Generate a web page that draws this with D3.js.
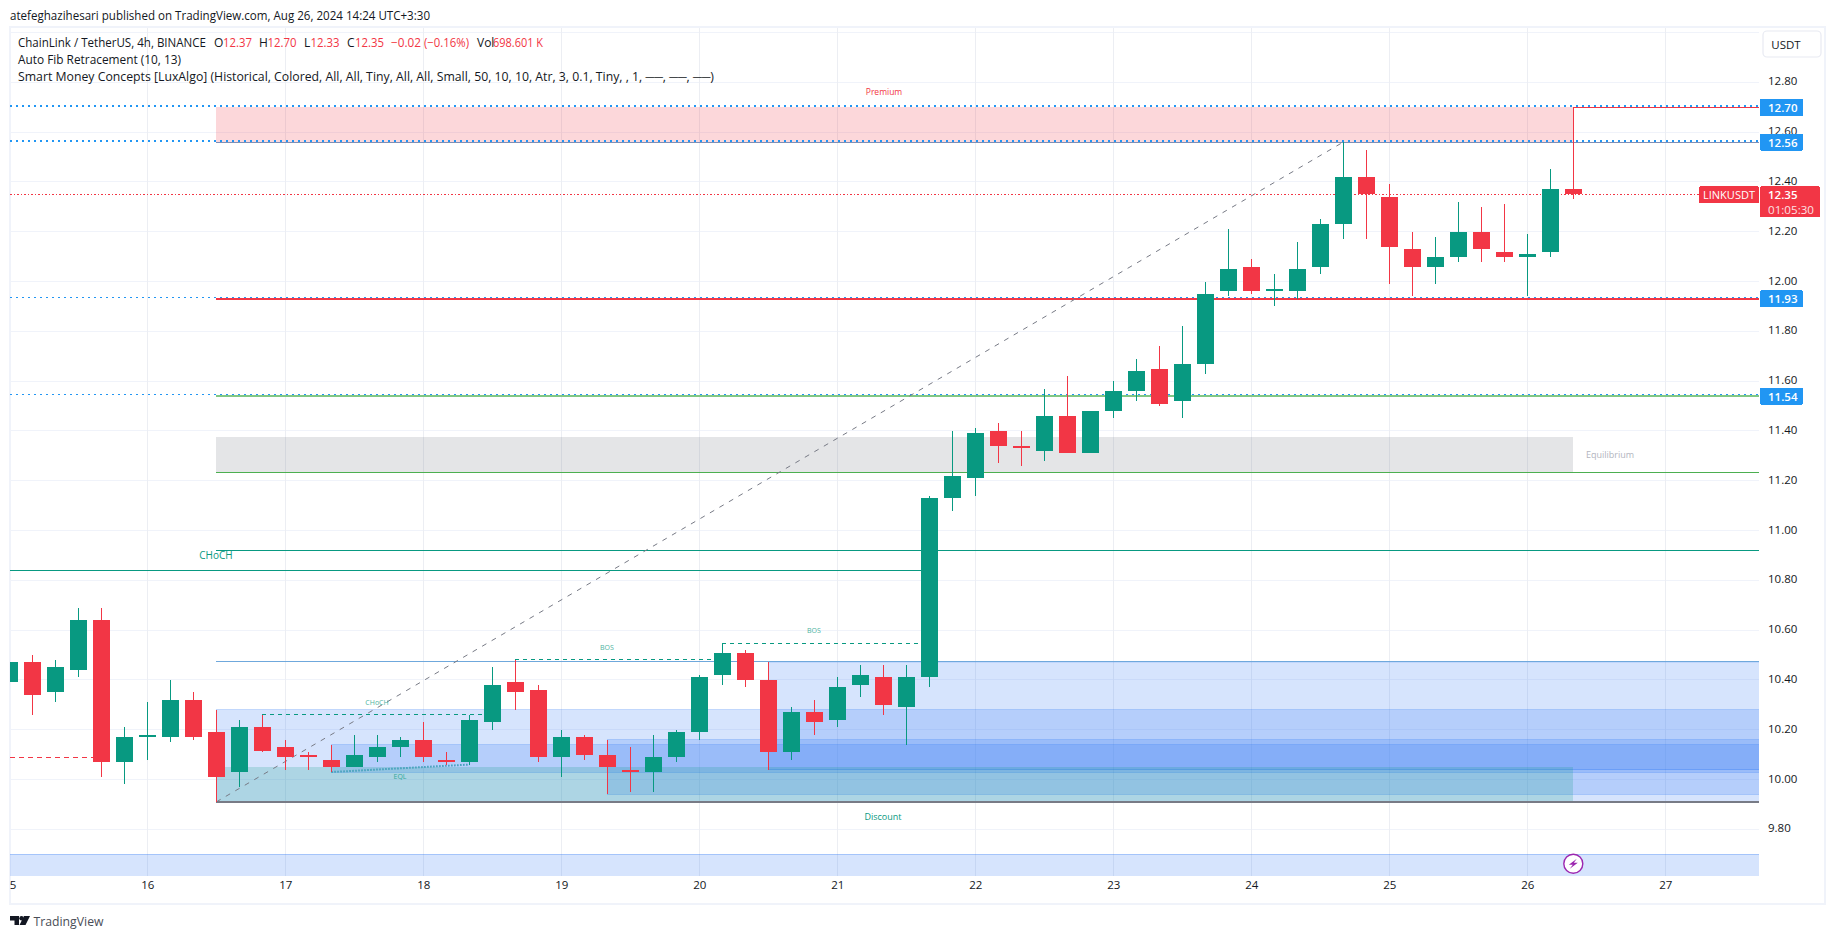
<!DOCTYPE html>
<html><head><meta charset="utf-8">
<style>
html,body{margin:0;padding:0;background:#fff;overflow:hidden}
svg{display:block}
text{font-family:"Open Sans","Noto Sans",sans-serif}
.domain,.tick line{display:none}
</style>
<script src="https://cdn.jsdelivr.net/npm/d3@7/dist/d3.min.js"></script>
</head><body><svg id="c" width="1835" height="939"></svg>
<script>
const opens =[10.39,10.47,10.35,10.44,10.64,10.07,10.17,10.17,10.32,10.19,10.03,10.21,10.13,10.10,10.08,10.05,10.09,10.13,10.16,10.08,10.07,10.23,10.39,10.36,10.09,10.17,10.10,10.04,10.03,10.09,10.19,10.42,10.51,10.40,10.11,10.27,10.24,10.38,10.41,10.29,10.41,11.13,11.21,11.40,11.34,11.32,11.46,11.31,11.48,11.56,11.65,11.52,11.67,11.96,12.06,11.965,11.96,12.06,12.23,12.42,12.34,12.13,12.06,12.10,12.20,12.12,12.10,12.12,12.37];
const closes=[10.47,10.34,10.45,10.64,10.07,10.17,10.18,10.32,10.17,10.01,10.21,10.115,10.09,10.09,10.05,10.10,10.13,10.16,10.09,10.07,10.24,10.38,10.35,10.09,10.17,10.10,10.05,10.03,10.09,10.19,10.41,10.51,10.40,10.11,10.27,10.23,10.37,10.42,10.30,10.41,11.13,11.22,11.39,11.34,11.33,11.46,11.31,11.48,11.56,11.64,11.51,11.67,11.95,12.05,11.96,11.97,12.05,12.23,12.42,12.35,12.14,12.06,12.10,12.20,12.13,12.10,12.11,12.37,12.35];
const highs =[10.47,10.50,10.48,10.69,10.69,10.21,10.31,10.40,10.35,10.28,10.24,10.26,10.16,10.11,10.14,10.18,10.18,10.17,10.23,10.11,10.26,10.45,10.48,10.38,10.20,10.18,10.16,10.13,10.18,10.20,10.42,10.55,10.52,10.47,10.29,10.32,10.41,10.46,10.46,10.46,11.14,11.40,11.41,11.43,11.40,11.57,11.62,11.48,11.60,11.69,11.74,11.82,12.00,12.21,12.09,12.03,12.16,12.25,12.56,12.53,12.39,12.20,12.18,12.32,12.30,12.31,12.19,12.45,12.70];
const lows  =[10.39,10.26,10.31,10.41,10.01,9.98,10.08,10.15,10.16,9.91,9.97,10.11,10.04,10.04,10.03,10.05,10.07,10.09,10.07,10.06,10.06,10.20,10.28,10.07,10.01,10.08,9.94,9.95,9.95,10.07,10.16,10.38,10.37,10.04,10.08,10.18,10.21,10.33,10.26,10.14,10.37,11.08,11.14,11.27,11.26,11.28,11.31,11.31,11.45,11.52,11.50,11.45,11.63,11.94,11.95,11.90,11.93,12.03,12.17,12.17,11.99,11.94,11.99,12.08,12.08,12.08,11.94,12.10,12.33];
const yTicks=[12.8,12.6,12.4,12.2,12.0,11.8,11.6,11.4,11.2,11.0,10.8,10.6,10.4,10.2,10.0,9.8];
const gridPrices=[13.0].concat(yTicks);
const dayNumbers=[15,16,17,18,19,20,21,22,23,24,25,26,27];
const fibLevels=[12.70,12.56,11.93,11.54];
const lastPrice=12.35;
const premiumZone=[12.70,12.56], equilibriumZone=[11.376,11.234], discountZone=[10.05,9.91];
const orderBlockTops=[10.468,10.28,10.139,10.16], orderBlockBottoms=[10.04,9.91,10.03,9.94];
const orderBlockStarts=[33,9,14,26];
const lowerBandTop=9.70, lowerBandBottom=9.55;

const W=1835,H=939,PL=10,PR=1759,PT=28,PB=876;
const t0=Date.UTC(2024,7,15);
const x=d3.scaleUtc().domain([new Date(t0),new Date(Date.UTC(2024,7,27))]).range([9.3,1665.3]);
const y=d3.scaleLinear().domain([12.8,9.8]).range([82.3,829.3]);
const tAt=i=>new Date(t0+i*4*3600e3);
const cx=i=>x(tAt(i));
const GREEN="#089981",RED="#f23645",BLUE="#2196f3",TEXT="#131722";
const svg=d3.select("#c");
svg.append("rect").attr("width",W).attr("height",H).attr("fill","#fff");

// frame
svg.append("rect").attr("x",10).attr("y",27).attr("width",1815).attr("height",877).attr("fill","none").attr("stroke","#f0f3fa").attr("stroke-width",2).attr("shape-rendering","crispEdges");

const defs=svg.append("defs");
defs.append("clipPath").attr("id","plot").append("rect").attr("x",PL).attr("y",PT).attr("width",PR-PL).attr("height",PB-PT);
defs.append("clipPath").attr("id","xa").append("rect").attr("x",PL).attr("y",PB).attr("width",PR-PL).attr("height",26);

const P=svg.append("g").attr("clip-path","url(#plot)");
const crisp=g=>g.attr("shape-rendering","crispEdges");

// grid
crisp(P.append("g").selectAll("line").data(gridPrices).join("line").attr("x1",PL).attr("x2",PR).attr("y1",d=>y(d)).attr("y2",d=>y(d)).attr("stroke","#f0f3fa"));
crisp(P.append("g").selectAll("line").data(dayNumbers).join("line").attr("x1",d=>x(new Date(Date.UTC(2024,7,d)))).attr("x2",d=>x(new Date(Date.UTC(2024,7,d)))).attr("y1",PT).attr("y2",PB).attr("stroke","#eceef3"));

// zones
function zone(x1,x2,top,bot,fill,stroke){
  const r=P.append("rect").attr("x",x1).attr("width",x2-x1).attr("y",y(top)).attr("height",y(bot)-y(top)).attr("fill",fill).attr("shape-rendering","crispEdges");
  if(stroke){hline(x1,x2,top,stroke,1);hline(x1,x2,bot,stroke,1);}
  return r;
}
function hline(x1,x2,p,color,w,dash,dy){
  const l=P.append("line").attr("x1",x1).attr("x2",x2).attr("y1",y(p)+(dy||0)).attr("y2",y(p)+(dy||0)).attr("stroke",color).attr("stroke-width",w).attr("shape-rendering","crispEdges");
  if(dash)l.attr("stroke-dasharray",dash);
  return l;
}
const OBF="rgba(49,121,245,0.2)",OBS="rgba(49,121,245,0.3)";
zone(PL,PR,lowerBandTop,lowerBandBottom,OBF);
hline(PL,PR,lowerBandTop,OBS,1);
orderBlockTops.forEach((t,i)=>{zone(cx(orderBlockStarts[i]),PR,t,orderBlockBottoms[i],OBF,OBS);});
const Z0=cx(9),Z1=cx(68);
zone(Z0,Z1,premiumZone[0],premiumZone[1],"rgba(242,54,69,0.2)");
zone(Z0,Z1,equilibriumZone[0],equilibriumZone[1],"rgba(120,123,134,0.2)");
zone(Z0,Z1,discountZone[0],discountZone[1],"rgba(8,153,129,0.2)");

// fib dotted + solid
fibLevels.forEach((p,i)=>hline(PL,PR,p,BLUE,i<2?2:1,"2 4",i<2?-1:-1.2));
hline(cx(68),PR,12.70,RED,1);
hline(Z0,PR,12.56,"#7f8fb5",1);
hline(Z0,PR,11.93,RED,1.6);
hline(Z0,PR,11.54,"#81c784",1.6);
hline(Z0,PR,11.234,"#4caf50",1);
hline(Z0,PR,9.91,"#787b86",1.4);
hline(Z0,PR,10.475,"#6fa8dc",1);
hline(PL,cx(4),10.089,RED,1,"5 4");
hline(Z0,PR,10.92,GREEN,1);
hline(PL,cx(40),10.84,GREEN,1);
hline(cx(11),cx(21),10.26,GREEN,1,"4 4");
hline(cx(22),cx(31),10.48,GREEN,1,"4 4");
hline(cx(31),cx(40),10.547,GREEN,1,"4 4");
P.append("line").attr("x1",cx(31)).attr("x2",cx(31)).attr("y1",y(10.547)).attr("y2",y(10.51)).attr("stroke",GREEN).attr("stroke-width",1).attr("shape-rendering","crispEdges");
P.append("line").attr("x1",cx(14)).attr("y1",y(10.03)).attr("x2",cx(20)).attr("y2",y(10.06)).attr("stroke","#3f9fb8").attr("stroke-width",2).attr("stroke-dasharray","1.5 1.5");
P.append("line").attr("x1",Z0).attr("y1",y(9.91)).attr("x2",cx(58)).attr("y2",y(12.56)).attr("stroke","#787b86").attr("stroke-width",1).attr("stroke-dasharray","5 6");
hline(PL,PR,lastPrice,RED,1,"1.5 2");

// candles
const idx=d3.range(opens.length);
const up=i=>closes[i]>=opens[i];
crisp(P.append("g").selectAll("line").data(idx).join("line")
  .attr("x1",cx).attr("x2",cx).attr("y1",i=>y(highs[i])).attr("y2",i=>y(lows[i]))
  .attr("stroke",i=>up(i)?GREEN:RED).attr("stroke-width",1));
crisp(P.append("g").selectAll("rect").data(idx).join("rect")
  .attr("x",i=>cx(i)-8.5).attr("width",17)
  .attr("y",i=>y(Math.max(opens[i],closes[i])))
  .attr("height",i=>Math.max(2,Math.abs(y(opens[i])-y(closes[i]))))
  .attr("fill",i=>up(i)?GREEN:RED));

// small labels
function lab(t,xp,yp,size,color,op,anchor,width){
  const e=svg.append("text").text(t).attr("x",xp).attr("y",yp).attr("font-size",size).attr("fill",color).attr("opacity",op||1)
   .attr("text-anchor",anchor||"middle").attr("dominant-baseline","central");
  if(width)e.attr("textLength",width).attr("lengthAdjust","spacingAndGlyphs");
  return e;
}
lab("Premium",884,91,8.5,RED);
lab("Equilibrium",1610,454,9,"#b2b5be");
lab("Discount",883,816.5,9,GREEN);
lab("CHoCH",216,554.5,10,GREEN);
lab("CHoCH",377,702,7,GREEN,.75);
lab("BOS",607,647,7,GREEN,.75);
lab("BOS",814,630,7,GREEN,.75);
lab("EQL",400,776,7,GREEN,.75);

// y axis
const ya=svg.append("g").attr("transform","translate(1768,-1)").call(d3.axisRight(y).tickValues(yTicks).tickFormat(d3.format(".2f")).tickSize(0).tickPadding(0));
ya.selectAll("text").attr("font-size",11.5).attr("fill",TEXT).attr("font-family",'"Open Sans"');
// x axis
const xa=svg.append("g").attr("clip-path","url(#xa)").append("g").attr("transform","translate(0,881)")
 .call(d3.axisBottom(x).tickValues(dayNumbers.map(d=>new Date(Date.UTC(2024,7,d)))).tickFormat(d3.utcFormat("%d")).tickSize(0).tickPadding(0));
xa.selectAll("text").attr("font-size",11.5).attr("fill",TEXT).attr("font-family",'"Open Sans"');

// price tags
function tag(x1,x2,y1,y2,fill){svg.append("rect").attr("x",x1).attr("y",y1).attr("width",x2-x1).attr("height",y2-y1).attr("fill",fill).attr("rx",1).attr("shape-rendering","crispEdges");}
fibLevels.forEach(p=>{
  const c=y(p);
  tag(1760,1803,c-8.5,c+8.5,BLUE);
  lab(d3.format(".2f")(p),1768,c,11.5,"#fff",1,"start").attr("font-weight",600);
});
const ly=y(lastPrice);
tag(1699,1759,ly-8,ly+9,RED);
lab("LINKUSDT",1729,ly+.5,11.5,"#fff",1,"middle",52);
tag(1760,1820,ly-8,ly+23,RED);
lab(d3.format(".2f")(lastPrice),1768,ly+.5,11.5,"#fff",1,"start").attr("font-weight",600);
lab("01:05:30",1768,ly+15.5,11.5,"#fff",.85,"start",46);

// USDT button
svg.append("rect").attr("x",1763).attr("y",31).attr("width",58).attr("height",26).attr("rx",4).attr("fill","#fff").attr("stroke","#e8eaf2").attr("stroke-width",1.2);
lab("USDT",1786,44,11.5,TEXT);

// lightning marker
const mx=cx(68),my=863.7;
svg.append("circle").attr("cx",mx).attr("cy",my).attr("r",9.5).attr("fill","#fff").attr("stroke","#9c27b0").attr("stroke-width",1.4);
svg.append("path").attr("transform",`translate(${mx},${my})`).attr("d","M3.5,-5 L-4.5,1 L-0.5,1 L-3.5,5 L4.5,-1 L0.5,-1 Z").attr("fill","#9c27b0");

// header, legend
lab("atefeghazihesari published on TradingView.com, Aug 26, 2024 14:24 UTC+3:30",10,15,12,TEXT,1,"start",420);
const lg=[["ChainLink / TetherUS, 4h, BINANCE",18,TEXT,188],["O",214,TEXT],["12.37",223,RED,29],["H",259,TEXT],["12.70",267.5,RED,29],["L",304,TEXT],["12.33",310.5,RED,29],["C",347,TEXT],["12.35",355,RED,29],["−0.02",391,RED,30],["(−0.16%)",424,RED,45],["Vol",477,TEXT],["698.601 K",493,RED,50]];
lg.forEach(d=>lab(d[0],d[1],42,12,d[2],1,"start",d[3]));
lab("Auto Fib Retracement (10, 13)",18,59,12,TEXT,1,"start",163);
lab("Smart Money Concepts [LuxAlgo] (Historical, Colored, All, All, Tiny, All, All, Small, 50, 10, 10, Atr, 3, 0.1, Tiny, , 1, ──, ──, ──)",18,76,12,TEXT,1,"start",696);

// footer
svg.append("path").attr("d","M10,916 h9 v9 h-4.5 v-4.5 h-4.5 Z M24,916 h6 l-4.5,9 h-6 Z").attr("fill","#131722");
svg.append("circle").attr("cx",21.5).attr("cy",918.2).attr("r",2.2).attr("fill","#131722");
lab("TradingView",33.5,921,13.5,"#4a4d57",1,"start",70);
</script></body></html>
